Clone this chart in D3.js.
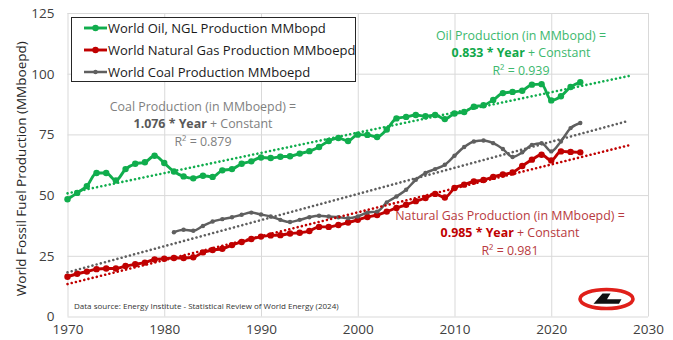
<!DOCTYPE html>
<html>
<head>
<meta charset="utf-8">
<script src="https://cdn.jsdelivr.net/npm/d3@7"></script>
<style>
  html, body { margin: 0; padding: 0; background: #fff; }
  svg { display: block; font-family: "Open Sans", "Noto Sans", sans-serif; }
</style>
</head>
<body>
<svg id="chart" width="673" height="340"></svg>
<script>
// World fossil fuel production, million barrels of oil equivalent per day
const oilYears = d3.range(1970, 2024);
const oilValues = [
  48.3, 50.9, 53.7, 59.1, 59.1, 56.0, 60.7, 62.9, 63.5, 66.2,
  63.2, 59.7, 57.7, 56.9, 58.0, 57.5, 60.2, 60.7, 62.9, 63.9,
  65.5, 65.3, 65.8, 66.0, 67.1, 68.1, 69.8, 72.3, 73.5, 72.3,
  74.9, 74.8, 73.9, 77.0, 81.6, 82.2, 83.0, 82.5, 83.0, 81.3,
  83.6, 84.2, 86.4, 87.0, 89.2, 92.0, 92.5, 93.0, 95.5, 95.7,
  89.0, 90.7, 94.5, 96.5
];

const gasYears = d3.range(1970, 2024);
const gasValues = [
  16.4, 17.6, 18.5, 19.5, 19.8, 19.8, 20.8, 21.5, 22.2, 23.5,
  23.8, 24.1, 24.1, 24.4, 26.4, 27.4, 27.9, 29.4, 30.7, 31.9,
  32.9, 33.4, 33.5, 34.2, 34.5, 35.2, 36.9, 36.9, 37.7, 38.7,
  39.8, 41.0, 41.8, 43.2, 44.7, 46.0, 47.5, 48.8, 50.5, 49.0,
  52.9, 54.3, 55.6, 56.2, 57.5, 58.5, 59.3, 62.0, 64.6, 66.6,
  64.3, 68.0, 67.8, 67.6
];

const coalYears = d3.range(1981, 2024);
const coalValues = [
  34.7, 35.7, 35.3, 37.3, 39.1, 40.1, 40.9, 41.9, 42.8,
  42.0, 41.2, 39.8, 38.9, 39.8, 40.9, 41.5, 41.2, 40.9, 40.5,
  41.2, 42.8, 43.2, 47.0, 49.4, 52.2, 56.3, 59.1, 60.7, 62.5,
  66.2, 69.8, 72.1, 72.5, 71.4, 69.0, 65.7, 67.6, 70.7, 71.4,
  68.0, 72.1, 77.6, 79.7
];

// Linear trend slopes (per year) as reported in the annotations
const trendSlopes = { oil: 0.833, gas: 0.985, coal: 1.076 };
const trendSpan = [1970, 2028];

const xTicks = [1970, 1980, 1990, 2000, 2010, 2020, 2030];
const yTicks = [0, 25, 50, 75, 100, 125];

const series = [
  { key: "oil",  name: "World Oil, NGL Production MMbopd",     years: oilYears,  values: oilValues,  color: "#10ad4d", r: 3.2, w: 2.9 },
  { key: "gas",  name: "World Natural Gas Production MMboepd", years: gasYears,  values: gasValues,  color: "#c00000", r: 3.2, w: 2.9 },
  { key: "coal", name: "World Coal Production MMboepd",        years: coalYears, values: coalValues, color: "#5f5f5f", r: 2.2, w: 2.5 }
];

const svg = d3.select("#chart");
const x = d3.scaleLinear().domain([1970, 2030]).range([67.5, 648]);
const y = d3.scaleLinear().domain([0, 125]).range([316.5, 13]);

// gridlines
svg.append("g")
  .attr("transform", `translate(0,${y(0)})`)
  .call(d3.axisBottom(x).tickValues(xTicks).tickSize(-(y(0) - y(125))).tickFormat(""))
  .call(g => g.select(".domain").remove())
  .call(g => g.selectAll("line").attr("stroke", "#d9d9d9").attr("stroke-width", 1));
svg.append("g")
  .attr("transform", `translate(${x(1970)},0)`)
  .call(d3.axisLeft(y).tickValues(yTicks).tickSize(-(x(2030) - x(1970))).tickFormat(""))
  .call(g => g.select(".domain").remove())
  .call(g => g.selectAll("line").attr("stroke", "#d9d9d9").attr("stroke-width", 1));

// axis labels
svg.append("g")
  .attr("transform", `translate(${x(1970) - 13},0)`)
  .call(d3.axisLeft(y).tickValues(yTicks).tickSize(0).tickPadding(0))
  .call(g => g.select(".domain").remove())
  .call(g => g.selectAll("text").attr("fill", "#404040").style("font-size", "13.5px").style("font-family", "'Open Sans', sans-serif"));
svg.append("g")
  .attr("transform", `translate(0,${y(0) + 8})`)
  .call(d3.axisBottom(x).tickValues(xTicks).tickSize(0).tickPadding(0).tickFormat(d3.format("d")))
  .call(g => g.select(".domain").remove())
  .call(g => g.selectAll("text").attr("fill", "#404040").style("font-size", "13.5px").style("font-family", "'Open Sans', sans-serif"));

svg.append("text")
  .attr("transform", `translate(26,${(y(0) + y(125)) / 2 + 4}) rotate(-90)`)
  .attr("text-anchor", "middle")
  .attr("fill", "#262626")
  .style("font-size", "13.5px")
  .text("World Fossil Fuel Production (MMboepd)");

// series lines and markers
const line = d3.line().x(d => x(d[0])).y(d => y(d[1])).curve(d3.curveMonotoneX);
series.forEach(s => {
  const pts = s.years.map((yr, i) => [yr, s.values[i]]);
  const g = svg.append("g").attr("class", "series-" + s.key);
  g.append("path").datum(pts)
    .attr("d", line).attr("fill", "none")
    .attr("stroke", s.color).attr("stroke-width", s.w)
    .attr("stroke-linejoin", "round");
  g.selectAll("circle").data(pts).join("circle")
    .attr("cx", d => x(d[0])).attr("cy", d => y(d[1]))
    .attr("r", s.r).attr("fill", s.color);
});

// dotted linear trends: fixed slope, least-squares intercept through the data means
series.forEach(s => {
  const slope = trendSlopes[s.key];
  const mx = d3.mean(s.years), my = d3.mean(s.values);
  const f = yr => my + slope * (yr - mx);
  svg.append("line")
    .attr("x1", x(trendSpan[0])).attr("y1", y(f(trendSpan[0])))
    .attr("x2", x(trendSpan[1])).attr("y2", y(f(trendSpan[1])))
    .attr("stroke", s.color).attr("stroke-width", 2.6)
    .attr("stroke-linecap", "round").attr("stroke-dasharray", "0.01 4.3");
});

// legend
const lg = svg.append("g");
lg.append("rect").attr("x", 71.5).attr("y", 17.5).attr("width", 284).attr("height", 64)
  .attr("fill", "#fff").attr("stroke", "#262626").attr("stroke-width", 1);
series.forEach((s, i) => {
  const cy = 28 + i * 22;
  lg.append("line").attr("x1", 84).attr("x2", 107).attr("y1", cy).attr("y2", cy)
    .attr("stroke", s.color).attr("stroke-width", s.w);
  lg.append("circle").attr("cx", 95.5).attr("cy", cy).attr("r", s.r).attr("fill", s.color);
  lg.append("text").attr("x", 108).attr("y", cy + 4.5)
    .attr("fill", "#1a1a1a").style("font-size", "13px").text(s.name);
});

// regression annotations
function annotate(cx, top, lead, slope, r2, light, dark) {
  const g = svg.append("g").attr("text-anchor", "middle").style("font-size", "12.4px");
  g.append("text").attr("x", cx).attr("y", top).attr("fill", light).text(lead);
  const t = g.append("text").attr("x", cx).attr("y", top + 17.5);
  t.append("tspan").attr("fill", dark).attr("font-weight", "bold").text(`${slope} * Year`);
  t.append("tspan").attr("fill", light).text(" + Constant");
  g.append("text").attr("x", cx).attr("y", top + 35).attr("fill", light).text(`R² = ${r2}`);
}
annotate(521, 39.5, "Oil Production (in MMbopd) =", trendSlopes.oil.toFixed(3), "0.939", "#3cb86e", "#10a84a");
annotate(203, 110.5, "Coal Production (in MMboepd) =", trendSlopes.coal.toFixed(3), "0.879", "#7f7f7f", "#595959");
annotate(510, 219.5, "Natural Gas Production (in MMboepd) =", trendSlopes.gas.toFixed(3), "0.981", "#b83a40", "#c00000");

// source note
svg.append("text").attr("x", 74).attr("y", 309)
  .attr("fill", "#333").style("font-size", "8px")
  .text("Data source: Energy Institute - Statistical Review of World Energy (2024)");

// badge
const bx = 606.5, by = 299;
const badge = svg.append("g").attr("transform", `translate(${bx},${by})`);
badge.append("ellipse").attr("rx", 26.5).attr("ry", 9.5).attr("fill", "#fff")
  .attr("stroke", "#e0201a").attr("stroke-width", 3.6);
badge.append("path")
  .attr("d", "M-4,-5.5 L4,-5.5 L0.5,0.3 L15,0.3 L12.5,4.8 L-13,4.8 Z")
  .attr("fill", "#111");
</script>
</body>
</html>
